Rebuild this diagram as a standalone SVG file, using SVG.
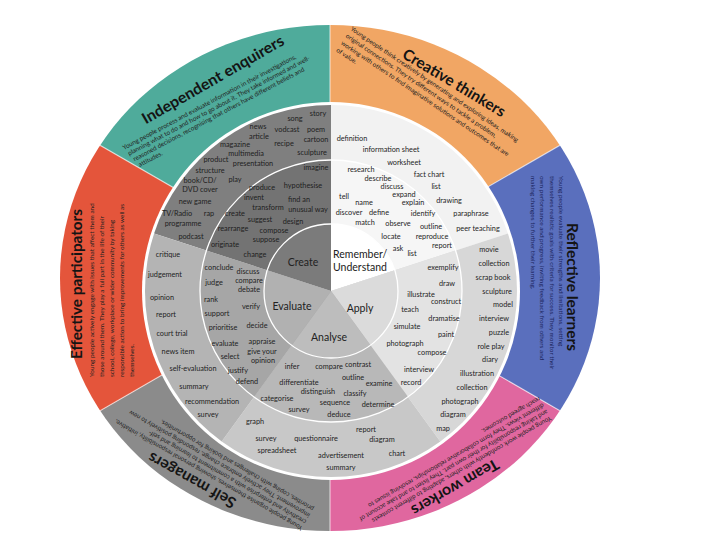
<svg xmlns="http://www.w3.org/2000/svg" width="720" height="540" viewBox="0 0 720 540">
<defs>
<clipPath id="oc"><ellipse cx="330" cy="278" rx="270" ry="253"/></clipPath>
<style>
text{font-family:Lato,"Liberation Sans",sans-serif;fill:#1e1e1e}
.w{font-size:7.3px;text-anchor:middle}
.hub{font-size:10.5px;text-anchor:middle;fill:#222}
.t{font-size:15.5px;font-weight:bold;text-anchor:middle;fill:#141414}
.p{font-size:6.4px;fill:#222}
.pb{font-size:6.4px;fill:#1c2660}
.sep{stroke:#fff;stroke-width:1.2;stroke-opacity:0.6}
.ring{fill:none;stroke:#fff;stroke-width:1.3}
</style>
</defs>
<rect width="720" height="540" fill="#fff"/>

<g id="outer-ring" clip-path="url(#oc)">
<polygon id="creative-bg" points="330,278 330,-122 676.4,78" fill="#f1a664"/>
<polygon id="reflective-bg" points="330,278 676.4,78 676.4,478" fill="#5a6fbd"/>
<polygon id="team-bg" points="330,278 676.4,478 330,678" fill="#e0679f"/>
<polygon id="self-bg" points="330,278 330,678 -16.4,478" fill="#8b8b8b"/>
<polygon id="effective-bg" points="330,278 -16.4,478 -16.4,78" fill="#e4553b"/>
<polygon id="independent-bg" points="330,278 -16.4,78 330,-122" fill="#4fab9b"/>
<path class="sep" d="M330,278 L330,0 M330,278 L676.4,78 M330,278 L676.4,478 M330,278 L330,560 M330,278 L-16.4,478 M330,278 L-16.4,78"/>
</g>

<g id="independent-enquirers">
<text class="t" transform="translate(213,80) rotate(-30)" y="5" textLength="161" lengthAdjust="spacingAndGlyphs">Independent enquirers</text>
<g transform="translate(124,150) rotate(-28)">
<text class="p" x="0" y="0">Young people process and evaluate information in their investigations,</text>
<text class="p" x="2" y="7.5">planning what to do and how to go about it. They take informed and well-</text>
<text class="p" x="4" y="15">reasoned decisions, recognising that others have different beliefs and</text>
<text class="p" x="6" y="22.5">attitudes.</text>
</g>
</g>

<g id="creative-thinkers">
<text class="t" transform="translate(454,83) rotate(31)" y="5" textLength="117" lengthAdjust="spacingAndGlyphs">Creative thinkers</text>
<g transform="translate(350,30) rotate(34)">
<text class="p" x="0" y="0">Young people think creatively by generating and exploring ideas, making</text>
<text class="p" x="0" y="8.5">original connections. They try different ways to tackle a problem,</text>
<text class="p" x="0" y="17">working with others to find imaginative solutions and outcomes that are</text>
<text class="p" x="0" y="25.5">of value.</text>
</g>
</g>

<g id="reflective-learners">
<text class="t" transform="translate(572,287) rotate(90)" y="5" textLength="128" lengthAdjust="spacingAndGlyphs">Reflective learners</text>
<g transform="translate(559,176) rotate(90)">
<text class="pb" x="0" y="0">Young people evaluate their strengths and limitations, setting</text>
<text class="pb" x="0" y="9.5">themselves realistic goals with criteria for success. They monitor their</text>
<text class="pb" x="0" y="19">own performance and progress, inviting feedback from others and</text>
<text class="pb" x="0" y="28.5">making changes to further their learning.</text>
</g>
</g>

<g id="team-workers">
<text class="t" transform="translate(455,487) rotate(150)" y="5" textLength="98" lengthAdjust="spacingAndGlyphs">Team workers</text>
<g transform="translate(550,416) rotate(150)">
<text class="p" x="0" y="0">Young people work confidently with others, adapting to different contexts</text>
<text class="p" x="0" y="7.5">and taking responsibility for their own part. They listen to and take account of</text>
<text class="p" x="0" y="15">different views. They form collaborative relationships, resolving issues to</text>
<text class="p" x="0" y="22.5">reach agreed outcomes.</text>
</g>
</g>

<g id="self-managers">
<text class="t" transform="translate(192,480) rotate(209)" y="5" textLength="98" lengthAdjust="spacingAndGlyphs">Self managers</text>
<g transform="translate(303,527) rotate(210)">
<text class="p" x="0" y="0">Young people organise themselves, showing personal responsibility, initiative,</text>
<text class="p" x="0" y="7.5">creativity and enterprise with a commitment to learning and self-</text>
<text class="p" x="0" y="15">improvement. They actively embrace change, responding positively to new</text>
<text class="p" x="0" y="22.5">priorities, coping with challenges and looking for opportunities.</text>
</g>
</g>

<g id="effective-participators">
<text class="t" transform="translate(77,284) rotate(-90)" y="5" textLength="150" lengthAdjust="spacingAndGlyphs">Effective participators</text>
<g transform="translate(94,377) rotate(-90)">
<text class="p" x="0" y="0">Young people actively engage with issues that affect them and</text>
<text class="p" x="0" y="10">those around them. They play a full part in the life of their</text>
<text class="p" x="0" y="20">school, college, workplace or wider community by taking</text>
<text class="p" x="0" y="30">responsible action to bring improvements for others as well as</text>
<text class="p" x="0" y="40">themselves.</text>
</g>
</g>

<circle cx="331" cy="291" r="189" fill="#fff"/>

<g id="wheel">
<g id="create">
<path d="M331,291 L331,105 A186,186 0 0 0 154.1,233.5 Z" fill="#7f7f7f"/>
<path d="M331,291 L331,160 A131,131 0 0 0 206.4,250.5 Z" fill="#737373"/>
<path d="M331,291 L331,224 A67,67 0 0 0 267.3,270.3 Z" fill="#7b7b7b"/>
</g>
<g id="remember">
<path d="M331,291 L331,105 A186,186 0 0 1 507.9,233.5 Z" fill="#f2f2f2"/>
<path d="M331,291 L331,160 A131,131 0 0 1 455.6,250.5 Z" fill="#f6f6f6"/>
<path d="M331,291 L331,224 A67,67 0 0 1 394.7,270.3 Z" fill="#ffffff"/>
</g>
<g id="apply">
<path d="M331,291 L507.9,233.5 A186,186 0 0 1 440.3,441.5 Z" fill="#d7d7d7"/>
<path d="M331,291 L455.6,250.5 A131,131 0 0 1 408,397 Z" fill="#e3e3e3"/>
<path d="M331,291 L394.7,270.3 A67,67 0 0 1 370.4,345.2 Z" fill="#dbdbdb"/>
</g>
<g id="analyse">
<path d="M331,291 L440.3,441.5 A186,186 0 0 1 221.7,441.5 Z" fill="#c8c8c8"/>
<path d="M331,291 L408,397 A131,131 0 0 1 254,397 Z" fill="#b8b8b8"/>
<path d="M331,291 L370.4,345.2 A67,67 0 0 1 291.6,345.2 Z" fill="#bdbdbd"/>
</g>
<g id="evaluate">
<path d="M331,291 L221.7,441.5 A186,186 0 0 1 154.1,233.5 Z" fill="#b4b4b4"/>
<path d="M331,291 L254,397 A131,131 0 0 1 206.4,250.5 Z" fill="#a6a6a6"/>
<path d="M331,291 L291.6,345.2 A67,67 0 0 1 267.3,270.3 Z" fill="#b1b1b1"/>
</g>
<circle class="ring" cx="331" cy="291" r="131"/>
<circle class="ring" cx="331" cy="291" r="67"/>
</g>

<g id="create-words">
<text class="w" x="318" y="115.5">story</text>
<text class="w" x="295" y="120.5">song</text>
<text class="w" x="258" y="128.5">news</text>
<text class="w" x="287" y="131.5">vodcast</text>
<text class="w" x="316" y="131.5">poem</text>
<text class="w" x="259" y="138.5">article</text>
<text class="w" x="284" y="145.5">recipe</text>
<text class="w" x="316" y="141.5">cartoon</text>
<text class="w" x="235" y="146.5">magazine</text>
<text class="w" x="246" y="155.5">multimedia</text>
<text class="w" x="312" y="154.5">sculpture</text>
<text class="w" x="216" y="161.5">product</text>
<text class="w" x="253" y="165.5">presentation</text>
<text class="w" x="210" y="172.5">structure</text>
<text class="w" x="200" y="182.5">book/CD/</text>
<text class="w" x="235" y="181.5">play</text>
<text class="w" x="200" y="191.5">DVD cover</text>
<text class="w" x="195" y="203.5">new game</text>
<text class="w" x="177" y="215.5">TV/Radio</text>
<text class="w" x="209" y="215.5">rap</text>
<text class="w" x="183" y="225.5">programme</text>
<text class="w" x="191" y="238.5">podcast</text>
<text class="w" x="316" y="169.5">imagine</text>
<text class="w" x="262" y="189.5">produce</text>
<text class="w" x="303" y="187.5">hypothesise</text>
<text class="w" x="254" y="199.5">invent</text>
<text class="w" x="299" y="201.5">find an</text>
<text class="w" x="268" y="209.5">transform</text>
<text class="w" x="308" y="211.5">unusual way</text>
<text class="w" x="235" y="215.5">create</text>
<text class="w" x="260" y="221.5">suggest</text>
<text class="w" x="293" y="223.5">design</text>
<text class="w" x="233" y="230.5">rearrange</text>
<text class="w" x="274" y="232.5">compose</text>
<text class="w" x="266" y="241.5">suppose</text>
<text class="w" x="225" y="246.5">originate</text>
<text class="w" x="255" y="256.5">change</text>
<text class="hub" x="303" y="266">Create</text>
</g>

<g id="evaluate-words">
<text class="w" x="168" y="256.5">critique</text>
<text class="w" x="165" y="276.5">judgement</text>
<text class="w" x="162" y="299.5">opinion</text>
<text class="w" x="166" y="316.5">report</text>
<text class="w" x="172" y="335.5">court trial</text>
<text class="w" x="178" y="353.5">news item</text>
<text class="w" x="193" y="370.5">self-evaluation</text>
<text class="w" x="194" y="388.5">summary</text>
<text class="w" x="212" y="403.5">recommendation</text>
<text class="w" x="208" y="416.5">survey</text>
<text class="w" x="219" y="269.5">conclude</text>
<text class="w" x="248" y="273.5">discuss</text>
<text class="w" x="214" y="284.5">judge</text>
<text class="w" x="249" y="283">compare</text>
<text class="w" x="249" y="292">debate</text>
<text class="w" x="211" y="301.5">rank</text>
<text class="w" x="251" y="308.5">verify</text>
<text class="w" x="217" y="315.5">support</text>
<text class="w" x="223" y="329.5">prioritise</text>
<text class="w" x="257" y="327.5">decide</text>
<text class="w" x="225" y="345.5">evaluate</text>
<text class="w" x="262" y="343.5">appraise</text>
<text class="w" x="230" y="358.5">select</text>
<text class="w" x="262" y="353.5">give your</text>
<text class="w" x="263" y="362.5">opinion</text>
<text class="w" x="238" y="372.5">justify</text>
<text class="w" x="247" y="383.5">defend</text>
<text class="hub" x="292" y="310">Evaluate</text>
</g>

<g id="analyse-words">
<text class="w" x="292" y="368.5">infer</text>
<text class="w" x="329" y="368.5">compare</text>
<text class="w" x="358" y="366.5">contrast</text>
<text class="w" x="353" y="379.5">outline</text>
<text class="w" x="299" y="384.5">differentiate</text>
<text class="w" x="379" y="385.5">examine</text>
<text class="w" x="318" y="393.5">distinguish</text>
<text class="w" x="355" y="395.5">classify</text>
<text class="w" x="277" y="400.5">categorise</text>
<text class="w" x="335" y="404.5">sequence</text>
<text class="w" x="378" y="406.5">determine</text>
<text class="w" x="299" y="411.5">survey</text>
<text class="w" x="339" y="416.5">deduce</text>
<text class="w" x="255" y="423.5">graph</text>
<text class="w" x="366" y="431.5">report</text>
<text class="w" x="266" y="440.5">survey</text>
<text class="w" x="316" y="440.5">questionnaire</text>
<text class="w" x="382" y="441.5">diagram</text>
<text class="w" x="277" y="452.5">spreadsheet</text>
<text class="w" x="341" y="457.5">advertisement</text>
<text class="w" x="397" y="455.5">chart</text>
<text class="w" x="341" y="469.5">summary</text>
<text class="hub" x="329" y="341">Analyse</text>
</g>

<g id="apply-words">
<text class="w" x="443" y="269.5">exemplify</text>
<text class="w" x="447" y="285.5">draw</text>
<text class="w" x="421" y="296.5">illustrate</text>
<text class="w" x="446" y="303.5">construct</text>
<text class="w" x="410" y="311.5">teach</text>
<text class="w" x="444" y="320.5">dramatise</text>
<text class="w" x="407" y="328.5">simulate</text>
<text class="w" x="446" y="336.5">paint</text>
<text class="w" x="405" y="345.5">photograph</text>
<text class="w" x="432" y="354.5">compose</text>
<text class="w" x="419" y="371.5">interview</text>
<text class="w" x="411" y="384.5">record</text>
<text class="w" x="489" y="251.5">movie</text>
<text class="w" x="494" y="265.5">collection</text>
<text class="w" x="493" y="279.5">scrap book</text>
<text class="w" x="497" y="293.5">sculpture</text>
<text class="w" x="503" y="306.5">model</text>
<text class="w" x="494" y="320.5">interview</text>
<text class="w" x="499" y="334.5">puzzle</text>
<text class="w" x="491" y="348.5">role play</text>
<text class="w" x="490" y="361.5">diary</text>
<text class="w" x="477" y="375.5">illustration</text>
<text class="w" x="472" y="389.5">collection</text>
<text class="w" x="460" y="403.5">photograph</text>
<text class="w" x="453" y="416.5">diagram</text>
<text class="w" x="443" y="430.5">map</text>
<text class="hub" x="360" y="312">Apply</text>
</g>

<g id="remember-words">
<text class="w" x="352" y="140.5">definition</text>
<text class="w" x="391" y="151.5">information sheet</text>
<text class="w" x="404" y="164.5">worksheet</text>
<text class="w" x="429" y="176.5">fact chart</text>
<text class="w" x="436" y="188.5">list</text>
<text class="w" x="449" y="202.5">drawing</text>
<text class="w" x="471" y="215.5">paraphrase</text>
<text class="w" x="478" y="230.5">peer teaching</text>
<text class="w" x="361" y="172">research</text>
<text class="w" x="378" y="181">describe</text>
<text class="w" x="392" y="189">discuss</text>
<text class="w" x="344" y="198.5">tell</text>
<text class="w" x="404" y="197">expand</text>
<text class="w" x="364" y="204.5">name</text>
<text class="w" x="413" y="205">explain</text>
<text class="w" x="349" y="214.5">discover</text>
<text class="w" x="379" y="214.5">define</text>
<text class="w" x="423" y="215.5">identify</text>
<text class="w" x="365" y="224.5">match</text>
<text class="w" x="398" y="225.5">observe</text>
<text class="w" x="431" y="228.5">outline</text>
<text class="w" x="391" y="238.5">locate</text>
<text class="w" x="432" y="238.5">reproduce</text>
<text class="w" x="398" y="250.5">ask</text>
<text class="w" x="442" y="247.5">report</text>
<text class="w" x="412" y="255.5">list</text>
<text class="hub" x="333" y="258" style="text-anchor:start">Remember/</text>
<text class="hub" x="333" y="271" style="text-anchor:start">Understand</text>
</g>
</svg>
